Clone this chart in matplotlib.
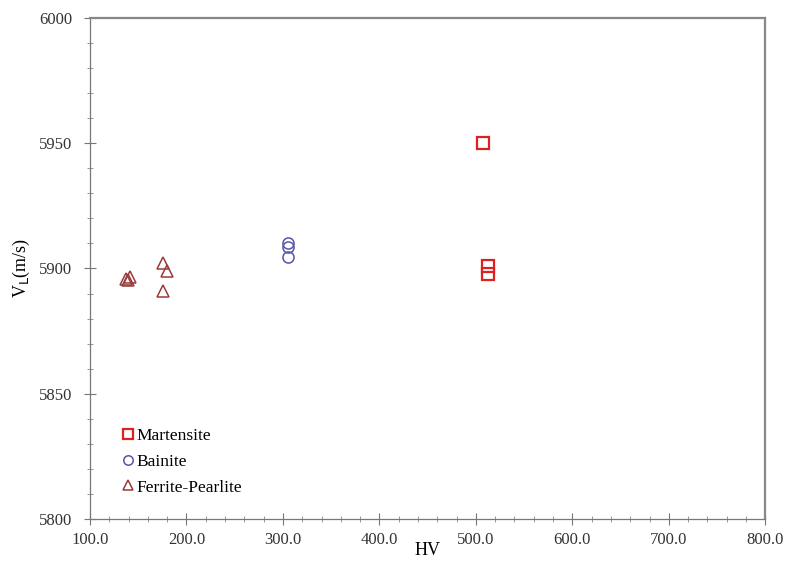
import matplotlib
matplotlib.use("Agg")
import matplotlib.pyplot as plt
from matplotlib.ticker import MultipleLocator, FormatStrFormatter

# data
mart_hv = [507, 513, 513]
mart_vl = [5950, 5901, 5898]
bain_hv = [305, 305, 305]
bain_vl = [5910, 5908.5, 5904.5]
fp_hv = [137, 139, 141, 176, 180, 176]
fp_vl = [5896, 5895.5, 5896.5, 5902, 5899, 5891]

plt.rcParams['font.family'] = ['Liberation Serif', 'DejaVu Serif']

fig = plt.figure(figsize=(7.87, 5.62), dpi=100)
ax = fig.add_axes([0.1144, 0.0765, 0.858, 0.8915])

ax.plot(mart_hv, mart_vl, 's', ms=8, mfc='none', mec='#dd2020', mew=1.6,
        label='Martensite')
ax.plot(bain_hv, bain_vl, 'o', ms=8, mfc='none', mec='#5555a8', mew=1.1,
        label='Bainite')
ax.plot(fp_hv, fp_vl, '^', ms=8, mfc='none', mec='#9a3a3a', mew=1.1,
        label='Ferrite-Pearlite')

ax.set_xlim(100, 800)
ax.set_ylim(5800, 6000)
ax.xaxis.set_major_locator(MultipleLocator(100))
ax.xaxis.set_minor_locator(MultipleLocator(20))
ax.yaxis.set_major_locator(MultipleLocator(50))
ax.yaxis.set_minor_locator(MultipleLocator(10))
ax.xaxis.set_major_formatter(FormatStrFormatter('%.1f'))

ax.tick_params(which='major', direction='inout', length=8, width=0.8,
               color='#777777', labelsize=12, labelcolor='#333333', pad=5)
ax.tick_params(which='minor', direction='inout', length=4, width=0.6,
               color='#888888')
ax.tick_params(axis='y', pad=9)

for side in ['left', 'bottom']:
    ax.spines[side].set_color('#777777')
    ax.spines[side].set_linewidth(0.9)
for side in ['top', 'right']:
    ax.spines[side].set_color('#888888')
    ax.spines[side].set_linewidth(1.6)

ax.set_xlabel('HV', fontsize=13)
ax.xaxis.set_label_coords(0.5, -0.045, transform=ax.transAxes)
ax.xaxis.label.set_va('top')
ax.set_ylabel('V$_\\mathrm{L}$(m/s)', fontsize=13, labelpad=5)

ax.legend(loc='lower left', bbox_to_anchor=(0.039, 0.033), frameon=False,
          handlelength=0.5, handletextpad=0.25, labelspacing=0.55, fontsize=12.5,
          borderaxespad=0, markerscale=0.85)

fig.savefig('out.png', dpi=100)
